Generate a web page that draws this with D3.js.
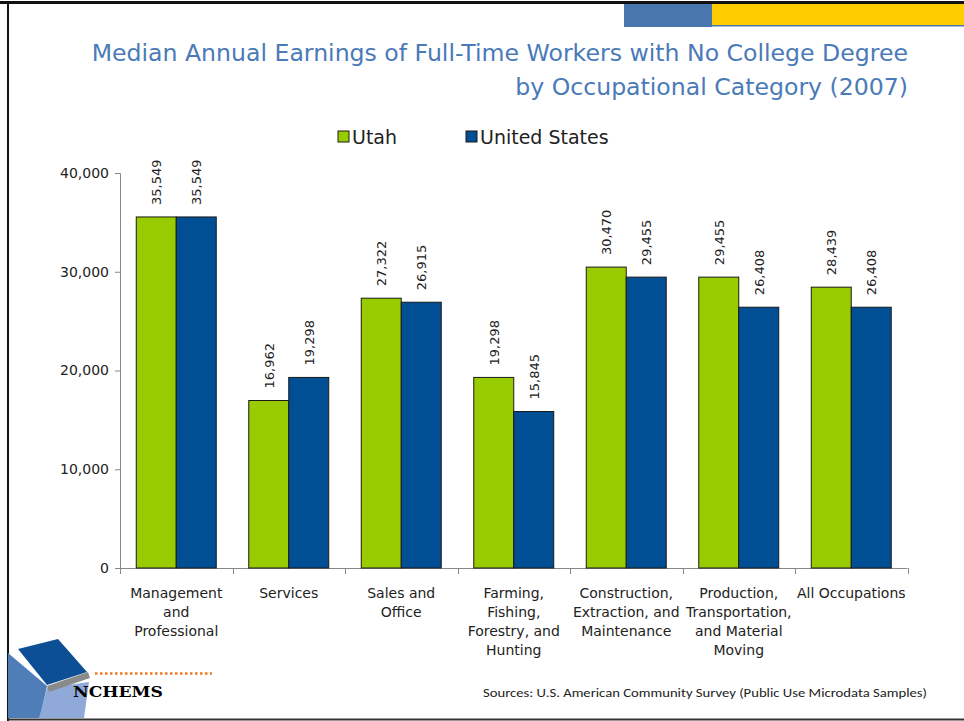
<!DOCTYPE html>
<html>
<head>
<meta charset="utf-8">
<script src="https://cdn.jsdelivr.net/npm/d3@7"></script>
<style>
  body { margin: 0; background: #fff; }
  svg { display: block; }
</style>
</head>
<body>
<svg id="chart" width="964" height="721"></svg>
<script>
const categories = [
  ["Management", "and", "Professional"],
  ["Services"],
  ["Sales and", "Office"],
  ["Farming,", "Fishing,", "Forestry, and", "Hunting"],
  ["Construction,", "Extraction, and", "Maintenance"],
  ["Production,", "Transportation,", "and Material", "Moving"],
  ["All Occupations"]
];
const seriesNames = ["Utah", "United States"];
const utah = [35549, 16962, 27322, 19298, 30470, 29455, 28439];
const unitedStates = [35549, 19298, 26915, 15845, 29455, 26408, 26408];
const yTicks = [0, 10000, 20000, 30000, 40000];
const colors = ["#99cc00", "#004f95"];

const svg = d3.select('#chart');
const fontMain = "Tahoma, 'DejaVu Sans', sans-serif";

// slide frame
svg.append('line').attr('x1', 0).attr('x2', 964).attr('y1', 2.5).attr('y2', 2.5)
  .attr('stroke', '#111').attr('stroke-width', 3);
svg.append('line').attr('x1', 8).attr('x2', 8).attr('y1', 2).attr('y2', 721)
  .attr('stroke', '#111').attr('stroke-width', 2);
svg.append('line').attr('x1', 8).attr('x2', 964).attr('y1', 719.5).attr('y2', 719.5)
  .attr('stroke', '#333').attr('stroke-width', 2);
svg.append('rect').attr('x', 624).attr('y', 4).attr('width', 88).attr('height', 23).attr('fill', '#4a76ae');
svg.append('rect').attr('x', 712).attr('y', 4).attr('width', 252).attr('height', 21).attr('fill', '#ffcc00');
svg.append('rect').attr('x', 712).attr('y', 25).attr('width', 252).attr('height', 1.5).attr('fill', '#4a76ae');

// title
const title = svg.append('text')
  .attr('text-anchor', 'end')
  .attr('fill', '#4a7ab8')
  .style('font-family', fontMain)
  .style('font-size', '23.6px');
title.append('tspan').attr('x', 908).attr('y', 61)
  .text('Median Annual Earnings of Full-Time Workers with No College Degree');
title.append('tspan').attr('x', 908).attr('y', 95)
  .text('by Occupational Category (2007)');

// scales
const margin = {left: 120, right: 907.5, top: 173, bottom: 568};
const x0 = d3.scaleBand()
  .domain(d3.range(categories.length))
  .range([margin.left, margin.right])
  .paddingInner(0.289)
  .paddingOuter(0.1445);
const x1 = d3.scaleBand()
  .domain(d3.range(seriesNames.length))
  .range([0, x0.bandwidth()]);
const y = d3.scaleLinear().domain([0, 40000]).range([margin.bottom, margin.top]);

// y axis
const yAxis = svg.append('g')
  .attr('transform', `translate(${margin.left},0)`)
  .call(d3.axisLeft(y).tickValues(yTicks).tickSize(5).tickPadding(6).tickFormat(d3.format(',')));
yAxis.select('.domain').attr('stroke', '#888');
yAxis.selectAll('.tick line').attr('stroke', '#888');
yAxis.selectAll('.tick text')
  .attr('fill', '#222')
  .style('font-family', fontMain)
  .style('font-size', '14px');

// x axis line + category boundary ticks
const step = x0.step();
svg.append('line')
  .attr('x1', margin.left).attr('x2', margin.right)
  .attr('y1', margin.bottom + 0.5).attr('y2', margin.bottom + 0.5)
  .attr('stroke', '#888');
svg.selectAll('line.xtick')
  .data(d3.range(categories.length + 1))
  .enter().append('line')
  .attr('class', 'xtick')
  .attr('x1', i => Math.round(margin.left + i * step) + 0.5)
  .attr('x2', i => Math.round(margin.left + i * step) + 0.5)
  .attr('y1', margin.bottom)
  .attr('y2', margin.bottom + 6)
  .attr('stroke', '#888');

// bars
const values = [utah, unitedStates];
const groups = svg.selectAll('g.cat')
  .data(categories)
  .enter().append('g')
  .attr('class', 'cat')
  .attr('transform', (d, i) => `translate(${x0(i)},0)`);

groups.selectAll('rect')
  .data((d, i) => values.map((s, j) => ({s: j, v: s[i]})))
  .enter().append('rect')
  .attr('x', d => x1(d.s))
  .attr('y', d => y(d.v))
  .attr('width', x1.bandwidth())
  .attr('height', d => y(0) - y(d.v))
  .attr('fill', d => colors[d.s])
  .attr('stroke', '#1a1a1a')
  .attr('stroke-width', 1);

groups.selectAll('text.val')
  .data((d, i) => values.map((s, j) => ({s: j, v: s[i]})))
  .enter().append('text')
  .attr('class', 'val')
  .attr('transform', d => `translate(${x1(d.s) + x1.bandwidth() / 2 + 5},${y(d.v) - 12}) rotate(-90)`)
  .attr('text-anchor', 'start')
  .attr('fill', '#222')
  .style('font-family', fontMain)
  .style('font-size', '13px')
  .text(d => d3.format(',')(d.v));

// category labels
groups.append('text')
  .attr('text-anchor', 'middle')
  .attr('fill', '#222')
  .style('font-family', fontMain)
  .style('font-size', '14px')
  .selectAll('tspan')
  .data(d => d)
  .enter().append('tspan')
  .attr('x', x0.bandwidth() / 2)
  .attr('y', (d, i) => 598 + i * 19)
  .text(d => d);

// legend
const legendX = [338, 466];
const legend = svg.selectAll('g.legend')
  .data(seriesNames)
  .enter().append('g')
  .attr('class', 'legend')
  .attr('transform', (d, i) => `translate(${legendX[i]},131)`);
legend.append('rect')
  .attr('width', 11).attr('height', 11)
  .attr('fill', (d, i) => colors[i])
  .attr('stroke', '#1a1a1a');
legend.append('text')
  .attr('x', 14).attr('y', 13)
  .attr('fill', '#222')
  .style('font-family', fontMain)
  .style('font-size', '19px')
  .text(d => d);

// source
svg.append('text')
  .attr('x', 483).attr('y', 697)
  .attr('fill', '#222')
  .style('font-family', "Carlito, 'Open Sans', sans-serif")
  .style('font-size', '12.5px')
  .attr('textLength', 444)
  .attr('lengthAdjust', 'spacingAndGlyphs')
  .text('Sources: U.S. American Community Survey (Public Use Microdata Samples)');

// logo
const logo = svg.append('g');
logo.append('polygon').attr('points', '8,653 47,686 40,718 8,718').attr('fill', '#4f7db8');
logo.append('polygon').attr('points', '47,688 89,682 84,718 39,718').attr('fill', '#8fa9d8');
logo.append('polygon').attr('points', '47,686 88,672 90,678 49,692').attr('fill', '#8a8a8a');
logo.append('polygon').attr('points', '18,649 58,639 87,672 47,685').attr('fill', '#0d4f95');
logo.append('line')
  .attr('x1', 95).attr('x2', 212).attr('y1', 673.5).attr('y2', 673.5)
  .attr('stroke', '#f07a20').attr('stroke-width', 2.5)
  .attr('stroke-dasharray', '2.5,2.5');
logo.append('text')
  .attr('x', 73).attr('y', 697)
  .attr('fill', '#000')
  .style('font-family', "'DejaVu Serif', serif")
  .style('font-weight', 'bold')
  .style('font-size', '15px')
  .attr('textLength', 90)
  .attr('lengthAdjust', 'spacingAndGlyphs')
  .text('NCHEMS');
</script>
</body>
</html>
